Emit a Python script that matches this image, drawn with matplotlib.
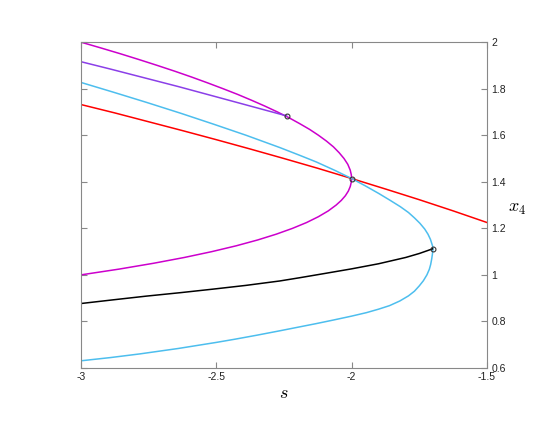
import matplotlib
matplotlib.use("Agg")
import matplotlib.pyplot as plt

# magenta branch (s, x4), upper part then lower part
mag_s = [-3.0, -2.926, -2.854, -2.785, -2.718, -2.653, -2.591, -2.532, -2.475, -2.420,
         -2.369, -2.320, -2.274, -2.231, -2.192, -2.155, -2.1225, -2.093, -2.067, -2.046,
         -2.028, -2.014, -2.005, -2.001, -2.0, -2.0008, -2.0048, -2.012, -2.023, -2.038,
         -2.057, -2.086, -2.1225, -2.166, -2.218, -2.278, -2.347, -2.426, -2.516, -2.617,
         -2.731, -2.858, -3.0]
mag_x = [2.0, 1.975, 1.95, 1.925, 1.9, 1.875, 1.85, 1.825, 1.8, 1.775,
         1.75, 1.725, 1.7, 1.675, 1.65, 1.625, 1.6, 1.575, 1.55, 1.525,
         1.5, 1.475, 1.45, 1.43, 1.414, 1.40, 1.38, 1.36, 1.34, 1.32,
         1.3, 1.275, 1.25, 1.225, 1.2, 1.175, 1.15, 1.125, 1.1, 1.075,
         1.05, 1.025, 1.0]

# purple branch
pur_s = [-3.0, -2.89, -2.78, -2.64, -2.5, -2.37, -2.24]
pur_x = [1.916, 1.884, 1.851, 1.809, 1.765, 1.724, 1.683]

# red branch
red_s = [-3.0, -2.875, -2.75, -2.625, -2.5, -2.375, -2.25, -2.125, -2.0, -1.875, -1.75, -1.625, -1.5]
red_x = [1.732, 1.696, 1.658, 1.620, 1.581, 1.541, 1.5, 1.458, 1.414, 1.369, 1.323, 1.275, 1.225]

# cyan branch, upper part, turning point, lower part
cya_s = [-3.0, -2.88, -2.757, -2.63, -2.511, -2.39, -2.265, -2.19, -2.13, -2.06,
         -2.0, -1.95, -1.9, -1.86, -1.82, -1.79, -1.768, -1.748, -1.73, -1.718,
         -1.709, -1.704, -1.7005, -1.700, -1.7015, -1.704, -1.708, -1.713, -1.722, -1.735,
         -1.75, -1.768, -1.79, -1.822, -1.86, -1.90, -1.945, -2.0, -2.068, -2.13,
         -2.191, -2.265, -2.35, -2.43, -2.5, -2.64, -2.78, -2.89, -3.0]
cya_x = [1.827, 1.785, 1.741, 1.694, 1.648, 1.600, 1.547, 1.513, 1.485, 1.448,
         1.414, 1.383, 1.350, 1.322, 1.293, 1.268, 1.245, 1.222, 1.197, 1.175,
         1.153, 1.135, 1.122, 1.111, 1.09, 1.07, 1.045, 1.024, 1.0, 0.975,
         0.953, 0.93, 0.91, 0.888, 0.868, 0.853, 0.838, 0.823, 0.806, 0.791,
         0.777, 0.760, 0.741, 0.724, 0.710, 0.684, 0.661, 0.645, 0.631]

# black branch
blk_s = [-3.0, -2.88, -2.757, -2.63, -2.511, -2.39, -2.265, -2.191, -2.1, -2.0,
         -1.9, -1.8, -1.75, -1.701]
blk_x = [0.877, 0.893, 0.909, 0.924, 0.939, 0.955, 0.974, 0.988, 1.006, 1.026,
         1.048, 1.075, 1.092, 1.112]

# special points
pt_s = [-2.24, -2.0, -1.701]
pt_x = [1.683, 1.414, 1.112]

plt.rcParams['mathtext.fontset'] = 'cm'
plt.rcParams['font.family'] = ['Liberation Sans', 'DejaVu Sans']

fig = plt.figure(figsize=(5.5, 4.25), dpi=100)
ax = fig.add_axes([0.1467, 0.134, 0.7388, 0.767])

lw = 1.1
ax.plot(mag_s, mag_x, color='#cc00cc', lw=lw)
ax.plot(pur_s, pur_x, color='#8b3fe8', lw=lw)
ax.plot(red_s, red_x, color='#ff0000', lw=lw)
ax.plot(cya_s, cya_x, color='#4dbeee', lw=lw)
ax.plot(blk_s, blk_x, color='black', lw=lw)
ax.plot(pt_s, pt_x, 'o', ms=3.5, mfc='none', mec='#333333', mew=0.8)

ax.set_xlim(-3, -1.5)
ax.set_ylim(0.6, 2)
ax.set_xticks([-3, -2.5, -2, -1.5])
ax.set_xticklabels(['-3', '-2.5', '-2', '-1.5'])
ax.set_yticks([0.6, 0.8, 1, 1.2, 1.4, 1.6, 1.8, 2])
ax.set_yticklabels(['0.6', '0.8', '1', '1.2', '1.4', '1.6', '1.8', '2'])

ax.yaxis.tick_right()
ax.tick_params(axis='both', direction='in', length=4, width=0.8, color='#888888',
               labelsize=7.5, labelcolor='#222222', pad=3)
ax.tick_params(axis='y', left=True, right=True, labelleft=False, labelright=True)
ax.tick_params(axis='x', top=True, bottom=True)
for sp in ax.spines.values():
    sp.set_color('#888888')
    sp.set_linewidth(0.8)

ax.set_xlabel('$s$', fontsize=13, labelpad=2)
ax.yaxis.set_label_position('right')
ax.set_ylabel('$x_4$', fontsize=13, rotation=0, labelpad=10)
ax.yaxis.set_label_coords(1.075, 0.515)

fig.savefig('out.png', dpi=100)
